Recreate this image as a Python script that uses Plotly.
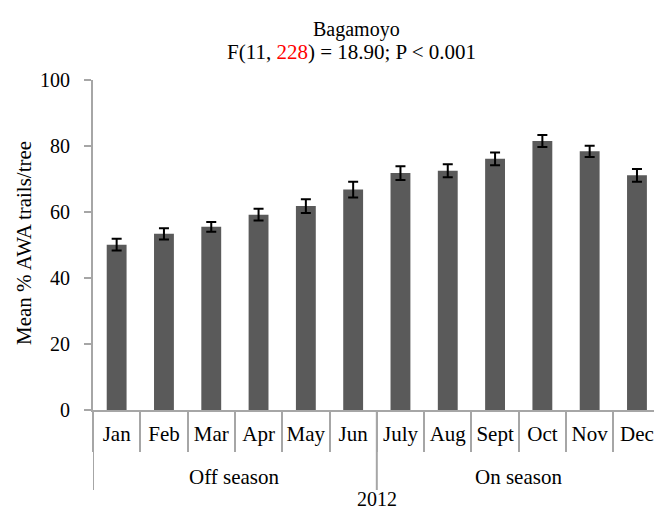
import plotly.graph_objects as go

# Monthly mean % AWA trails per tree, Bagamoyo 2012
months = ["Jan", "Feb", "Mar", "Apr", "May", "Jun",
          "July", "Aug", "Sept", "Oct", "Nov", "Dec"]
mean_trails = [50.1, 53.4, 55.5, 59.2, 61.8, 66.8,
               71.8, 72.5, 76.1, 81.5, 78.4, 71.1]
std_err = [1.8, 1.7, 1.5, 1.8, 2.1, 2.4,
           2.1, 2.0, 1.9, 1.8, 1.7, 1.9]
seasons = ["Off season", "On season"]
season_sizes = [6, 6]
year_label = "2012"
y_ticks = [0, 20, 40, 60, 80, 100]

W, H = 654, 512
L, R, T, B = 93, 0, 80, 102
plot_w = W - L - R
plot_h = H - T - B

FONT = "Liberation Serif"
AXIS_GREY = "#a6a6a6"


def py(pix):
    """pixel row from top -> paper y"""
    return (H - B - pix) / plot_h


def px(pix):
    """pixel column from left -> paper x"""
    return (pix - L) / plot_w


fig = go.Figure()
fig.add_trace(go.Bar(
    x=months,
    y=mean_trails,
    marker=dict(color="#5a5a5a", line=dict(width=0)),
    error_y=dict(type="data", array=std_err, visible=True,
                 color="black", thickness=2, width=5),
    showlegend=False,
))

# visible span in categories, so the last month is clipped at the page edge
n_vis = 11.86

fig.update_layout(
    width=W, height=H,
    margin=dict(l=L, r=R, t=T, b=B, pad=0),
    paper_bgcolor="white", plot_bgcolor="white",
    bargap=0.58,
    font=dict(family=FONT, size=20, color="black"),
    xaxis=dict(
        type="category",
        range=[-0.5, -0.5 + n_vis],
        showline=True, linecolor=AXIS_GREY, linewidth=2,
        ticks="outside", tickson="boundaries", ticklen=40,
        tickcolor=AXIS_GREY, tickwidth=2,
        tickangle=0,
        ticklabelstandoff=4,
        showgrid=False, zeroline=False,
        tickfont=dict(family=FONT, size=21, color="black"),
    ),
    yaxis=dict(
        range=[0, 100],
        tickvals=y_ticks,
        showline=True, linecolor=AXIS_GREY, linewidth=2,
        ticks="outside", ticklen=7, tickcolor=AXIS_GREY, tickwidth=2,
        ticklabelstandoff=10,
        showgrid=False, zeroline=False,
        tickfont=dict(family=FONT, size=20, color="black"),
    ),
)

# season dividers below the axis
bounds = [-0.5]
for s in season_sizes:
    bounds.append(bounds[-1] + s)
for b in bounds:
    fig.add_shape(type="line", xref="x", yref="paper",
                  x0=b, x1=b, y0=0, y1=py(490),
                  line=dict(color=AXIS_GREY, width=2))

# season labels centred on their month groups
for name, lo, hi in zip(seasons, bounds[:-1], bounds[1:]):
    fig.add_annotation(text=name, xref="x", yref="paper",
                       x=(lo + hi) / 2, y=py(477),
                       xanchor="center", yanchor="middle",
                       showarrow=False, font=dict(family=FONT, size=21))

# year label under the whole span
fig.add_annotation(text=year_label, xref="x", yref="paper",
                   x=bounds[1], y=py(512),
                   xanchor="center", yanchor="bottom",
                   showarrow=False, font=dict(family=FONT, size=20))

# two-line title
fig.add_annotation(text="Bagamoyo", xref="paper", yref="paper",
                   x=px(356), y=py(30), xanchor="center", yanchor="middle",
                   showarrow=False, font=dict(family=FONT, size=20))
fig.add_annotation(
    text='F(11, <span style="color:red">228</span>) = 18.90; P < 0.001',
    xref="paper", yref="paper",
    x=px(351), y=py(52), xanchor="center", yanchor="middle",
    showarrow=False, font=dict(family=FONT, size=21))

# y-axis title
fig.add_annotation(text="Mean % AWA trails/tree", xref="paper", yref="paper",
                   x=px(24), y=py(243), xanchor="center", yanchor="middle",
                   textangle=-90, showarrow=False,
                   font=dict(family=FONT, size=21))

fig.write_html("out.html")
